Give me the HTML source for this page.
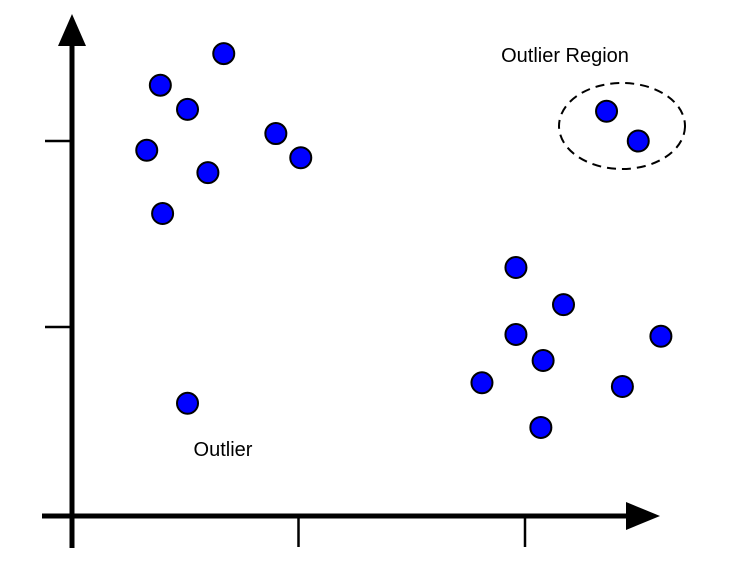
<!DOCTYPE html>
<html><head><meta charset="utf-8"><style>
html,body{margin:0;padding:0;background:#fff;}
svg{display:block;font-family:"Liberation Sans",sans-serif;}
</style></head><body>
<svg id="chart" width="747" height="582" viewBox="0 0 747 582">
<g id="axes">
<line x1="72" y1="548" x2="72" y2="40" stroke="#000" stroke-width="5"/>
<polygon points="72,14 58,46 86,46" fill="#000"/>
<line x1="42" y1="516" x2="630" y2="516" stroke="#000" stroke-width="5"/>
<polygon points="660,516 626,502 626,530" fill="#000"/>
</g>
<g id="ticks"></g>
<g id="points"></g>
<ellipse cx="622" cy="126" rx="63" ry="43" fill="none" stroke="#000" stroke-width="2" stroke-dasharray="9,6"/>
<text x="565" y="62" font-size="20" text-anchor="middle" fill="#000">Outlier Region</text>
<text x="223" y="456" font-size="20" text-anchor="middle" fill="#000">Outlier</text>
</svg>
<script>
const xTicks = [1, 2];
const yTicks = [1, 2];
const xValues = [0.67,0.39,0.51,0.90,0.33,1.01,0.60,0.40,0.51,1.96,2.17,1.96,2.08,2.60,1.81,2.43,2.07,2.36,2.50];
const yValues = [2.47,2.30,2.17,2.04,1.95,1.91,1.83,1.61,0.59,1.32,1.12,0.96,0.82,0.95,0.70,0.68,0.46,2.16,2.00];
function sx(v){return 72 + v*226.5;}
function sy(v){return 513 - v*186;}
const NS='http://www.w3.org/2000/svg';
const tg=document.getElementById('ticks');
xTicks.forEach(function(t){
  const l=document.createElementNS(NS,'line');
  l.setAttribute('x1',sx(t));l.setAttribute('x2',sx(t));
  l.setAttribute('y1',516);l.setAttribute('y2',547);
  l.setAttribute('stroke','#000');l.setAttribute('stroke-width','2.5');
  
  
  tg.appendChild(l);
});
yTicks.forEach(function(t){
  const l=document.createElementNS(NS,'line');
  l.setAttribute('x1',45);l.setAttribute('x2',72);
  l.setAttribute('y1',sy(t));l.setAttribute('y2',sy(t));
  l.setAttribute('stroke','#000');l.setAttribute('stroke-width','2.5');
  
  
  tg.appendChild(l);
});
const pg=document.getElementById('points');
xValues.forEach(function(v,i){
  const c=document.createElementNS(NS,'circle');
  c.setAttribute('cx',sx(v));c.setAttribute('cy',sy(yValues[i]));
  c.setAttribute('r',10.5);c.setAttribute('fill','#0000ff');
  c.setAttribute('stroke','#000');c.setAttribute('stroke-width','2');
  
  
  pg.appendChild(c);
});
</script>
</body></html>
